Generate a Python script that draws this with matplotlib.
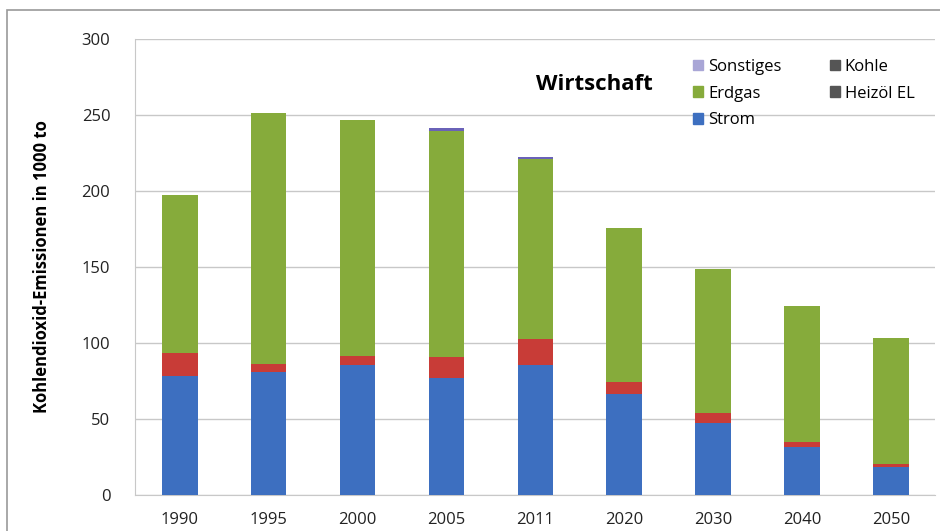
import numpy as np
import matplotlib.pyplot as plt
from matplotlib.patches import Patch, Rectangle

plt.rcParams['font.family'] = ['Open Sans', 'DejaVu Sans']

# Daten
jahre = ['1990', '1995', '2000', '2005', '2011', '2020', '2030', '2040', '2050']
strom = [78, 81, 85.5, 77, 85.5, 66.5, 47.5, 31.5, 18.5]
heizoel = [15.5, 5, 6, 14, 17, 8, 6.5, 3.5, 2]
erdgas = [103.5, 165, 155, 148.5, 118.5, 101, 94.5, 89.3, 83]
kohle = [0, 0, 0, 0, 0, 0, 0, 0, 0]
sonstiges = [0, 0, 0, 1.5, 1, 0, 0, 0, 0]

c_strom = '#3d6fc0'
c_heiz = '#c83c37'
c_erdgas = '#86ab3b'
c_kohle = '#555555'
c_sonst = '#6a62b8'

fig = plt.figure(figsize=(9.4, 5.31), dpi=100)
ax = fig.add_axes([0.144, 0.068, 0.851, 0.859])

x = np.arange(len(jahre))
w = 0.4
b1 = np.array(strom)
b2 = b1 + np.array(heizoel)
b3 = b2 + np.array(erdgas)
b4 = b3 + np.array(kohle)
ax.bar(x, strom, w, color=c_strom, zorder=3)
ax.bar(x, heizoel, w, bottom=b1, color=c_heiz, zorder=3)
ax.bar(x, erdgas, w, bottom=b2, color=c_erdgas, zorder=3)
ax.bar(x, kohle, w, bottom=b3, color=c_kohle, zorder=3)
ax.bar(x, sonstiges, w, bottom=b4, color=c_sonst, zorder=3)

ax.set_xlim(-0.5, len(jahre) - 0.5)
ax.set_ylim(0, 300)
ax.set_yticks(np.arange(0, 301, 50))
ax.set_xticks(x)
ax.set_xticklabels(jahre)
ax.tick_params(axis='both', length=0, labelsize=12, colors='#222222')
ax.tick_params(axis='y', pad=18)
ax.tick_params(axis='x', pad=12)
ax.grid(axis='y', color='#c8c8c8', linewidth=1, zorder=0)
for s in ['top', 'right']:
    ax.spines[s].set_visible(False)
ax.spines['left'].set_color('#c8c8c8')
ax.spines['bottom'].set_color('#c8c8c8')

ax.set_ylabel('Kohlendioxid-Emissionen in 1000 to', fontsize=12,
              fontweight='bold', labelpad=22)

ax.text(0.574, 0.9, 'Wirtschaft', transform=ax.transAxes, fontsize=16,
        fontweight='bold', ha='center', va='center')

handles = [Patch(color='#a9a6d6', label='Sonstiges'),
           Patch(color=c_erdgas, label='Erdgas'),
           Patch(color=c_strom, label='Strom'),
           Patch(color=c_kohle, label='Kohle'),
           Patch(color=c_kohle, label='Heizöl EL')]
ax.legend(handles=handles, ncol=2, loc='upper left',
          bbox_to_anchor=(0.697, 0.956), frameon=False, fontsize=12,
          borderpad=0, borderaxespad=0,
          handlelength=0.6, handleheight=0.6, handletextpad=0.3,
          columnspacing=2.9, labelspacing=0.65)

fig.add_artist(Rectangle((7 / 940, -0.01), 1.0, 1 - 10 / 531 + 0.01,
                         transform=fig.transFigure, fill=False,
                         edgecolor='#999999', linewidth=1.2))

fig.savefig('out.png', dpi=100)
